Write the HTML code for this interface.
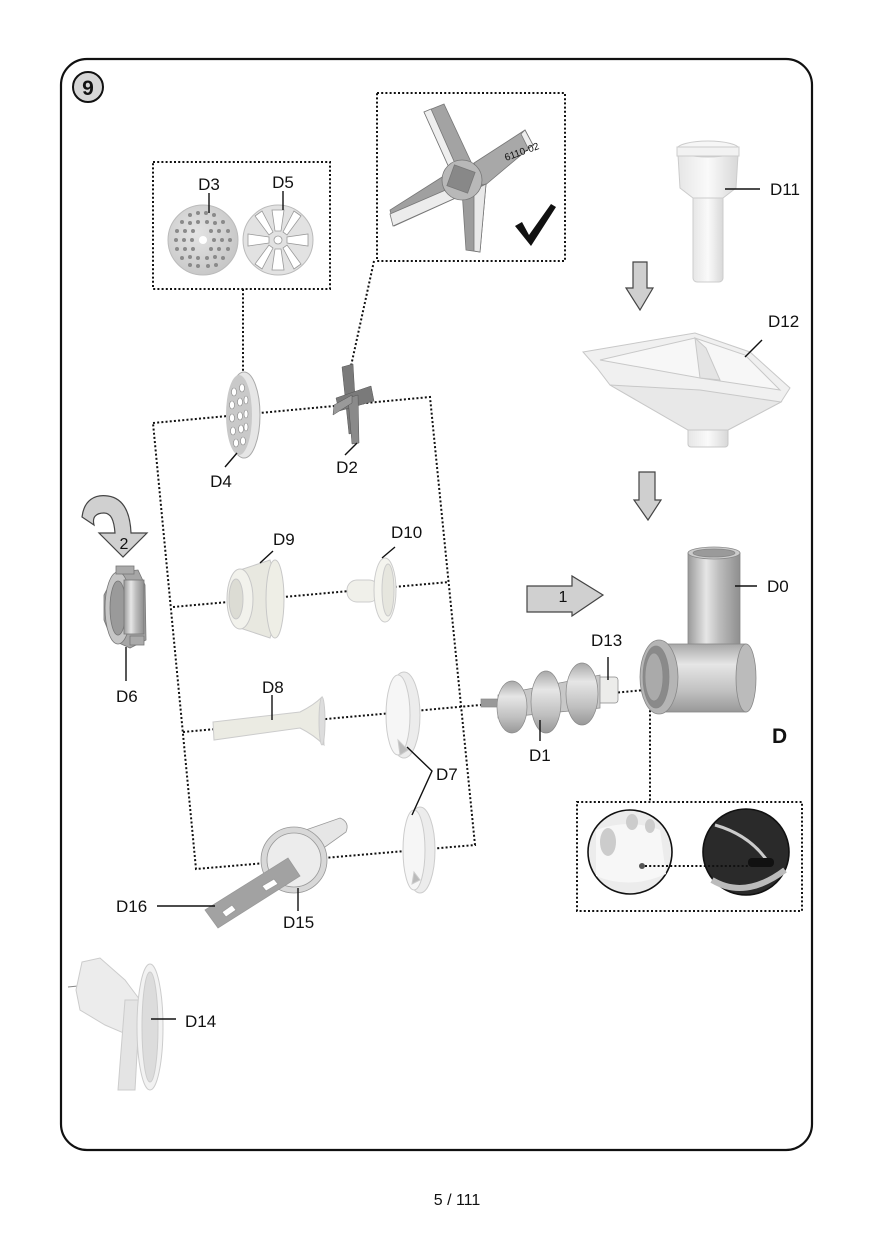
<!DOCTYPE html>
<html><head><meta charset="utf-8"><style>
html,body{margin:0;padding:0;background:#fff;}
svg{display:block;}
text{font-family:"Liberation Sans",Arial,sans-serif;fill:#111;}
</style></head><body>
<svg width="874" height="1240" viewBox="0 0 874 1240" xmlns="http://www.w3.org/2000/svg">
<defs>
<linearGradient id="metH" x1="0" x2="1" y1="0" y2="0"><stop offset="0" stop-color="#9a9a9a"/><stop offset="0.35" stop-color="#e6e6e6"/><stop offset="0.6" stop-color="#bdbdbd"/><stop offset="1" stop-color="#8e8e8e"/></linearGradient>
<linearGradient id="metV" x1="0" x2="0" y1="0" y2="1"><stop offset="0" stop-color="#a8a8a8"/><stop offset="0.3" stop-color="#e6e6e6"/><stop offset="0.7" stop-color="#c0c0c0"/><stop offset="1" stop-color="#989898"/></linearGradient>
<linearGradient id="plH" x1="0" x2="1" y1="0" y2="0"><stop offset="0" stop-color="#e6e6e6"/><stop offset="0.5" stop-color="#fafafa"/><stop offset="1" stop-color="#d8d8d8"/></linearGradient>
<linearGradient id="plV" x1="0" x2="0" y1="0" y2="1"><stop offset="0" stop-color="#f4f4f4"/><stop offset="1" stop-color="#dadada"/></linearGradient>
<radialGradient id="disc" cx="0.4" cy="0.4" r="0.7"><stop offset="0" stop-color="#e4e4e4"/><stop offset="1" stop-color="#c4c4c4"/></radialGradient>
</defs>

<!-- frame -->
<rect x="61" y="59" width="751" height="1091" rx="26" ry="26" fill="none" stroke="#111" stroke-width="2.2"/>
<circle cx="88" cy="87" r="15" fill="#d6d6d6" stroke="#111" stroke-width="2"/>
<text x="88" y="95" font-size="21" font-weight="bold" text-anchor="middle">9</text>

<!-- dotted boxes & lines -->
<g fill="none" stroke="#111" stroke-width="2" stroke-dasharray="2 2.2">
<rect x="153" y="162" width="177" height="127"/>
<rect x="377" y="93" width="188" height="168"/>
<line x1="243" y1="289" x2="243" y2="372"/>
<line x1="374" y1="261" x2="351" y2="366"/>
<polygon points="153,423 430,397 475,845 196,869"/>
<line x1="173" y1="607" x2="449" y2="582"/>
<line x1="183" y1="732" x2="645" y2="690"/>
<line x1="650" y1="706" x2="650" y2="802"/>
<rect x="577" y="802" width="225" height="109"/>
</g>

<!-- D3 disc -->
<circle cx="203" cy="240" r="35" fill="url(#disc)" stroke="#bbb"/>
<g fill="#8a8a8a">
<circle cx="203" cy="240" r="4" fill="#fff"/>
<circle cx="190" cy="215" r="2"/><circle cx="198" cy="213" r="2"/><circle cx="206" cy="213" r="2"/><circle cx="214" cy="215" r="2"/>
<circle cx="182" cy="222" r="2"/><circle cx="190" cy="223" r="2"/><circle cx="198" cy="222" r="2"/><circle cx="207" cy="222" r="2"/><circle cx="215" cy="223" r="2"/><circle cx="223" cy="222" r="2"/>
<circle cx="177" cy="231" r="2"/><circle cx="185" cy="231" r="2"/><circle cx="193" cy="231" r="2"/><circle cx="211" cy="231" r="2"/><circle cx="219" cy="231" r="2"/><circle cx="228" cy="231" r="2"/>
<circle cx="176" cy="240" r="2"/><circle cx="184" cy="240" r="2"/><circle cx="192" cy="240" r="2"/><circle cx="214" cy="240" r="2"/><circle cx="222" cy="240" r="2"/><circle cx="230" cy="240" r="2"/>
<circle cx="177" cy="249" r="2"/><circle cx="185" cy="249" r="2"/><circle cx="193" cy="249" r="2"/><circle cx="211" cy="249" r="2"/><circle cx="219" cy="249" r="2"/><circle cx="228" cy="249" r="2"/>
<circle cx="182" cy="258" r="2"/><circle cx="190" cy="257" r="2"/><circle cx="198" cy="258" r="2"/><circle cx="207" cy="258" r="2"/><circle cx="215" cy="257" r="2"/><circle cx="223" cy="258" r="2"/>
<circle cx="190" cy="265" r="2"/><circle cx="198" cy="266" r="2"/><circle cx="208" cy="266" r="2"/><circle cx="216" cy="265" r="2"/>
</g>
<!-- D5 disc -->
<circle cx="278" cy="240" r="35" fill="#e2e2e2" stroke="#bbb"/>
<g fill="#fff" stroke="#999" stroke-width="0.8">
<circle cx="278" cy="240" r="4"/>
<path d="M272,210 L284,210 L281,231 L275,231Z"/>
<path d="M272,270 L284,270 L281,249 L275,249Z"/>
<path d="M248,234 L248,246 L269,243 L269,237Z"/>
<path d="M308,234 L308,246 L287,243 L287,237Z"/>
<path d="M255,216 L262,211 L273,232 L269,235Z"/>
<path d="M301,216 L294,211 L283,232 L287,235Z"/>
<path d="M255,264 L262,269 L273,248 L269,245Z"/>
<path d="M301,264 L294,269 L283,248 L287,245Z"/>
</g>

<!-- big blade -->
<g stroke="#777" stroke-width="0.8">
<path d="M424,112 L444,104 L472,164 L451,172Z" fill="#a3a3a3"/>
<path d="M424,112 L431,109 L457,168 L451,172Z" fill="#eee"/>
<path d="M474,163 L525,130 L533,145 L483,187Z" fill="#a8a8a8"/>
<path d="M525,130 L533,145 L528,148 L521,134Z" fill="#eee"/>
<path d="M450,172 L460,196 L394,226 L390,210Z" fill="#a0a0a0"/>
<path d="M390,214 L455,186 L460,196 L393,226Z" fill="#ececec"/>
<path d="M462,190 L486,184 L480,252 L466,250Z" fill="#9c9c9c"/>
<path d="M474,190 L486,184 L480,252 L474,251Z" fill="#e8e8e8"/>
<circle cx="462" cy="180" r="20" fill="#b8b8b8"/>
<rect x="450" y="168" width="22" height="22" fill="#888" transform="rotate(20 461 179)"/>
</g>
<text x="506" y="161" font-size="10" fill="#555" transform="rotate(-20 506 161)">6110-02</text>
<path d="M515,226 L522,222 L529,235 L551,204 L556,207 L531,246 Z" fill="#111"/>

<!-- D4 -->
<ellipse cx="244" cy="415" rx="16" ry="43" fill="#e6e6e6" stroke="#aaa"/>
<ellipse cx="239" cy="415" rx="13" ry="40" fill="#c9c9c9"/>
<g fill="#fff" stroke="#888" stroke-width="0.6">
<ellipse cx="234" cy="392" rx="2.5" ry="4"/><ellipse cx="242" cy="388" rx="2.5" ry="4"/>
<ellipse cx="232" cy="405" rx="2.5" ry="4"/><ellipse cx="240" cy="402" rx="2.5" ry="4"/><ellipse cx="246" cy="400" rx="2" ry="4"/>
<ellipse cx="232" cy="418" rx="2.5" ry="4"/><ellipse cx="240" cy="416" rx="2.5" ry="4"/><ellipse cx="246" cy="414" rx="2" ry="4"/>
<ellipse cx="233" cy="431" rx="2.5" ry="4"/><ellipse cx="241" cy="429" rx="2.5" ry="4"/><ellipse cx="246" cy="427" rx="2" ry="4"/>
<ellipse cx="236" cy="443" rx="2.5" ry="4"/><ellipse cx="243" cy="441" rx="2.5" ry="4"/>
</g>

<!-- D2 small blade -->
<g fill="#7a7a7a" stroke="#555" stroke-width="0.5">
<path d="M342,367 L353,364 L357,432 L349,434Z"/>
<path d="M336,398 L371,386 L374,401 L339,411Z"/>
<path d="M348,398 L358,395 L359,443 L352,444Z" fill="#8a8a8a"/>
<path d="M334,405 L352,395 L352,403 L333,415Z" fill="#999"/>
</g>

<!-- D11 pusher -->
<g stroke="#ccc" stroke-width="1">
<rect x="693" y="192" width="30" height="90" rx="4" fill="url(#plH)"/>
<path d="M678,155 L738,155 L736,188 L723,198 L693,198 L680,188Z" fill="url(#plH)"/>
<ellipse cx="708" cy="149" rx="31" ry="8" fill="#f6f6f6"/>
<rect x="677" y="147" width="62" height="9" fill="#f2f2f2"/>
</g>

<!-- down arrow 1 -->
<path d="M633,262 L647,262 L647,288 L653,288 L640,310 L626,288 L633,288Z" fill="#cfcfcf" stroke="#444" stroke-width="1.2"/>
<!-- D12 tray -->
<g stroke="#c8c8c8" stroke-width="1">
<rect x="688" y="422" width="40" height="25" rx="3" fill="url(#plH)"/>
<path d="M583,352 L695,333 L750,352 L790,388 L781,402 L728,430 L688,430 L610,385 L597,368Z" fill="#f0f0f0"/>
<path d="M600,360 L695,338 L745,355 L780,390 L700,378Z" fill="#f7f7f7"/>
<path d="M695,338 L706,348 L720,380 L700,378 Z" fill="#e4e4e4"/>
<path d="M610,385 L688,430 L728,430 L781,402 L700,390Z" fill="#e8e8e8"/>
</g>
<!-- down arrow 2 -->
<path d="M639,472 L655,472 L655,500 L661,500 L648,520 L634,500 L639,500Z" fill="#cfcfcf" stroke="#444" stroke-width="1.2"/>

<!-- curved arrow 2 -->
<path d="M82,517 C84,500 95,494 108,496 C122,498 130,510 131,533 L147,533 L123,557 L99,533 L115,533 C114,520 111,513 104,513 C96,513 92,517 94,525 Z" fill="#d0d0d0" stroke="#444" stroke-width="1.2"/>
<text x="124" y="549" font-size="16" text-anchor="middle">2</text>

<!-- D6 nut -->
<g stroke="#777" stroke-width="0.8">
<path d="M116,572 L138,570 L145,585 L146,640 L130,648 L112,640 L104,620 L104,595Z" fill="#a6a6a6"/>
<ellipse cx="118" cy="608" rx="13" ry="36" fill="#c6c6c6"/>
<ellipse cx="118" cy="608" rx="8" ry="27" fill="#9a9a9a"/>
<rect x="124" y="580" width="20" height="54" fill="url(#metH)"/>
<rect x="116" y="566" width="18" height="8" fill="#aaa"/>
<rect x="130" y="636" width="14" height="9" fill="#aaa"/>
</g>

<!-- D9 cone -->
<g stroke="#c8c8c8" stroke-width="1">
<path d="M240,570 L270,560 L282,600 L270,638 L240,628 Z" fill="#e8e8e0"/>
<ellipse cx="275" cy="599" rx="9" ry="39" fill="#eeeee6"/>
<ellipse cx="240" cy="599" rx="13" ry="30" fill="#f2f2ec"/>
<ellipse cx="236" cy="599" rx="7" ry="20" fill="#dcdcd4"/>
</g>

<!-- D10 -->
<g stroke="#ccc" stroke-width="1">
<rect x="347" y="580" width="32" height="22" rx="10" fill="#f0f0ea"/>
<ellipse cx="385" cy="590" rx="11" ry="32" fill="#f4f4ee"/>
<ellipse cx="388" cy="590" rx="6" ry="26" fill="#e6e6de"/>
</g>

<!-- D8 tube -->
<g stroke="#ccc" stroke-width="1">
<path d="M213,722 L300,712 Q314,705 322,697 L324,745 Q314,735 300,728 L214,740Z" fill="#ebebe3"/>
<ellipse cx="322" cy="721" rx="3" ry="24" fill="#ddd"/>
</g>

<!-- D7 top -->
<g stroke="#ccc" stroke-width="1">
<ellipse cx="404" cy="715" rx="16" ry="43" fill="#ececec"/>
<ellipse cx="398" cy="715" rx="12" ry="40" fill="#f6f6f6"/>
<path d="M398,740 L408,750 L400,755Z" fill="#bbb"/>
</g>
<!-- D7 bottom -->
<g stroke="#ccc" stroke-width="1">
<ellipse cx="420" cy="850" rx="15" ry="43" fill="#ececec"/>
<ellipse cx="414" cy="850" rx="11" ry="40" fill="#f6f6f6"/>
<path d="M414,872 L420,880 L412,884Z" fill="#bbb"/>
</g>

<!-- D15 / D16 -->
<g stroke="#999" stroke-width="0.8">
<path d="M300,832 L340,818 Q350,822 346,832 L318,852Z" fill="#e6e6e6"/>
<circle cx="294" cy="860" r="33" fill="#d8d8d8"/>
<circle cx="294" cy="860" r="27" fill="#ececec"/>
<path d="M205,910 L288,858 L300,876 L218,928Z" fill="#a2a2a2"/>
<path d="M222,912 L232,905 L236,910 L226,917Z" fill="#fff"/>
<path d="M262,886 L274,879 L278,884 L266,891Z" fill="#fff"/>
</g>

<!-- D1 worm -->
<g stroke="#888" stroke-width="0.7">
<rect x="481" y="699" width="20" height="8" fill="#999"/>
<rect x="592" y="677" width="26" height="26" rx="3" fill="#ececea"/>
<path d="M498,695 L600,675 L600,708 L498,718Z" fill="#c8c8c8"/>
<ellipse cx="512" cy="707" rx="15" ry="26" fill="url(#metV)"/>
<ellipse cx="546" cy="702" rx="15" ry="31" fill="url(#metV)"/>
<ellipse cx="582" cy="694" rx="16" ry="31" fill="url(#metV)"/>
</g>

<!-- right arrow 1 -->
<path d="M527,586 L572,586 L572,576 L603,595 L572,616 L572,612 L527,612Z" fill="#d0d0d0" stroke="#444" stroke-width="1.2"/>
<text x="563" y="602" font-size="16" text-anchor="middle">1</text>

<!-- D0 -->
<g stroke="#888" stroke-width="0.8">
<rect x="688" y="553" width="52" height="100" fill="url(#metH)"/>
<ellipse cx="714" cy="553" rx="26" ry="6" fill="#ccc"/>
<ellipse cx="714" cy="553" rx="21" ry="4" fill="#9a9a9a"/>
<rect x="660" y="644" width="86" height="68" fill="url(#metV)"/>
<ellipse cx="746" cy="678" rx="10" ry="34" fill="#bbb"/>
<ellipse cx="659" cy="677" rx="19" ry="37" fill="#b5b5b5"/>
<ellipse cx="656" cy="677" rx="13" ry="31" fill="#8a8a8a"/>
<ellipse cx="654" cy="677" rx="9" ry="24" fill="#aaa"/>
</g>

<!-- detail circles -->
<circle cx="630" cy="852" r="42" fill="#ececec" stroke="#111" stroke-width="1.6"/>
<path d="M596,830 Q630,818 660,830 L666,874 Q630,890 596,876Z" fill="#f7f7f7"/>
<ellipse cx="608" cy="842" rx="8" ry="14" fill="#ccc"/>
<ellipse cx="632" cy="822" rx="6" ry="8" fill="#ccc"/>
<ellipse cx="650" cy="826" rx="5" ry="7" fill="#ccc"/>
<circle cx="642" cy="866" r="3" fill="#555"/>
<circle cx="746" cy="852" r="43" fill="#2a2a2a" stroke="#111" stroke-width="1.6"/>
<path d="M715,825 Q750,835 768,862" stroke="#ccc" stroke-width="3" fill="none"/>
<path d="M712,880 Q745,900 785,870" stroke="#bbb" stroke-width="6" fill="none"/>
<rect x="748" y="858" width="26" height="9" rx="4" fill="#111"/>
<line x1="645" y1="866" x2="748" y2="866" stroke="#111" stroke-width="2" stroke-dasharray="2 2.2"/>

<!-- D14 -->
<g stroke="#ccc" stroke-width="1">
<line x1="68" y1="987" x2="78" y2="986" stroke="#888"/>
<path d="M82,962 L100,958 L125,980 L140,1000 L140,1040 L105,1025 L80,1010 L76,990Z" fill="#ececec"/>
<path d="M125,1000 L140,1000 L135,1090 L118,1090 Z" fill="#e4e4e4"/>
<ellipse cx="150" cy="1027" rx="13" ry="63" fill="#f2f2f2"/>
<ellipse cx="150" cy="1027" rx="8" ry="55" fill="#dcdcdc"/>
</g>

<!-- leader lines -->
<g stroke="#111" stroke-width="1.4" fill="none">
<line x1="209" y1="193" x2="209" y2="213"/>
<line x1="283" y1="191" x2="283" y2="210"/>
<line x1="225" y1="467" x2="237" y2="453"/>
<line x1="345" y1="455" x2="357" y2="443"/>
<line x1="725" y1="189" x2="760" y2="189"/>
<line x1="745" y1="357" x2="762" y2="340"/>
<line x1="735" y1="586" x2="757" y2="586"/>
<line x1="608" y1="657" x2="608" y2="680"/>
<line x1="540" y1="720" x2="540" y2="741"/>
<line x1="260" y1="563" x2="273" y2="551"/>
<line x1="382" y1="558" x2="395" y2="547"/>
<line x1="126" y1="647" x2="126" y2="681"/>
<line x1="272" y1="695" x2="272" y2="720"/>
<polyline points="407,747 432,771 412,815"/>
<line x1="157" y1="906" x2="215" y2="906"/>
<line x1="298" y1="888" x2="298" y2="911"/>
<line x1="151" y1="1019" x2="176" y2="1019"/>
</g>

<!-- labels -->
<g font-size="17">
<text x="209" y="190" text-anchor="middle">D3</text>
<text x="283" y="188" text-anchor="middle">D5</text>
<text x="221" y="487" text-anchor="middle">D4</text>
<text x="347" y="473" text-anchor="middle">D2</text>
<text x="770" y="195">D11</text>
<text x="768" y="327">D12</text>
<text x="767" y="592">D0</text>
<text x="591" y="646">D13</text>
<text x="529" y="761">D1</text>
<text x="273" y="545">D9</text>
<text x="391" y="538">D10</text>
<text x="116" y="702">D6</text>
<text x="262" y="693">D8</text>
<text x="436" y="780">D7</text>
<text x="116" y="912">D16</text>
<text x="283" y="928">D15</text>
<text x="185" y="1027">D14</text>
</g>
<text x="772" y="743" font-size="21" font-weight="bold">D</text>
<text x="457" y="1205" font-size="16" text-anchor="middle">5 / 111</text>
</svg>
</body></html>
